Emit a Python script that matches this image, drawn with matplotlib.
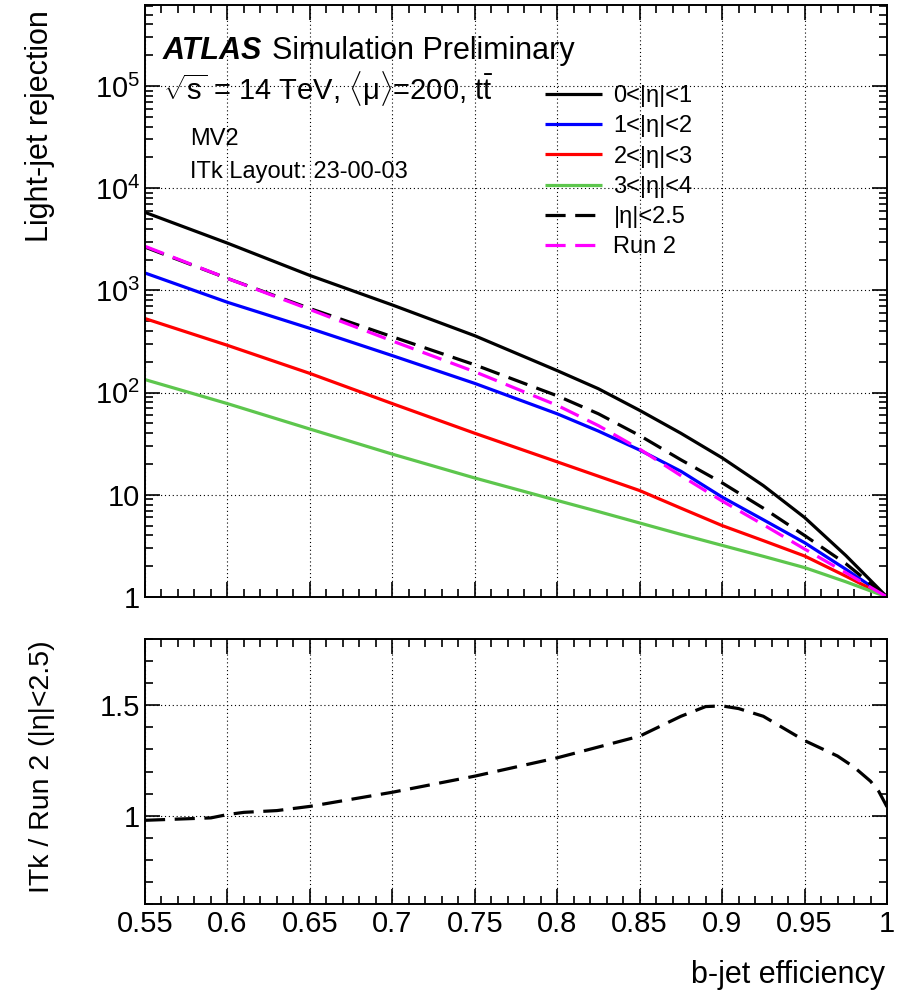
import math
import matplotlib
matplotlib.use("Agg")
import matplotlib.pyplot as plt
from matplotlib.ticker import MultipleLocator, FixedLocator, FuncFormatter, LogLocator, NullFormatter

plt.rcParams["font.family"] = ["Liberation Sans", "DejaVu Sans"]
plt.rcParams["mathtext.fontset"] = "custom"
plt.rcParams["mathtext.rm"] = "Liberation Sans"
plt.rcParams["mathtext.it"] = "Liberation Sans:italic"
plt.rcParams["mathtext.bf"] = "Liberation Sans:bold"

# b-tagging performance: light-jet rejection vs b-jet efficiency
eff = [0.55, 0.60, 0.65, 0.70, 0.75, 0.80, 0.825, 0.85, 0.875, 0.90, 0.925, 0.95, 0.975, 1.0]
rej_eta01 = [5800, 2900, 1400, 720, 360, 164, 109, 67, 40, 23, 12.3, 6.0, 2.55, 1.0]
rej_eta12 = [1480, 765, 425, 230, 123, 62, 42, 27.4, 17, 9.5, 5.7, 3.4, 1.87, 1.0]
rej_eta23 = [530, 290, 154, 78, 40, 21, 15.2, 11.0, 7.4, 5.0, 3.56, 2.52, 1.6, 1.0]
rej_eta34 = [134, 78, 44, 25, 14.6, 8.8, 6.85, 5.3, 4.1, 3.2, 2.5, 1.94, 1.41, 1.0]
rej_itk = [2650, 1310, 665, 352, 187, 93, 62, 38, 22, 13.1, 7.4, 4.0, 2.12, 1.0]
rej_run2 = [2700, 1310, 650, 320, 160, 75, 47.5, 28, 15.4, 8.7, 5.1, 2.95, 1.73, 1.0]

# ITk / Run 2 ratio for |eta|<2.5
ratio_eff = [0.55, 0.59, 0.60, 0.61, 0.63, 0.65, 0.70, 0.75, 0.80, 0.85, 0.875,
             0.89, 0.90, 0.91, 0.925, 0.95, 0.97, 0.98, 0.99, 0.995, 1.0]
ratio_val = [0.979, 0.99, 1.005, 1.015, 1.023, 1.042, 1.106, 1.179, 1.262, 1.36, 1.45,
             1.494, 1.497, 1.485, 1.45, 1.34, 1.27, 1.22, 1.156, 1.11, 1.04]

labels = ["0<|η|<1", "1<|η|<2", "2<|η|<3", "3<|η|<4", "|η|<2.5", "Run 2"]
colors = ["black", "#0000ff", "#ff0000", "#5dc64d", "black", "#ff00ff"]
series = [rej_eta01, rej_eta12, rej_eta23, rej_eta34, rej_itk, rej_run2]
dashed = [False, False, False, False, True, True]

W, H = 902, 994
fig = plt.figure(figsize=(W / 100, H / 100), dpi=100)
ax1 = fig.add_axes([145 / W, 1 - 597 / H, 742 / W, 592 / H])
ax2 = fig.add_axes([145 / W, 1 - 904 / H, 742 / W, 265 / H])

lw = 2.3
dash = (6.3, 3.0)
for vals, lab, col, d in zip(series, labels, colors, dashed):
    ln, = ax1.plot(eff, vals, color=col, lw=lw, label=lab, solid_capstyle="butt",
                   solid_joinstyle="round")
    if d:
        ln.set_dashes(dash)

ax2.plot(ratio_eff, ratio_val, color="black", lw=lw, dashes=dash)

tick_fs = 21
grid_kw = dict(color="black", lw=0.8, linestyle=(0, (1, 2.5)))

for ax in (ax1, ax2):
    ax.set_xlim(0.55, 1.0)
    ax.xaxis.set_major_locator(MultipleLocator(0.05))
    ax.xaxis.set_minor_locator(MultipleLocator(0.01))
    ax.tick_params(which="both", direction="in", top=True, right=True, width=1.2,
                   labelsize=tick_fs)
    ax.tick_params(which="major", length=11)
    ax.tick_params(which="minor", length=5.5)
    ax.grid(True, which="major", **grid_kw)
    for s in ax.spines.values():
        s.set_linewidth(1.4)

ax1.set_yscale("log")
ax1.set_ylim(1, 6.2e5)
ax1.yaxis.set_major_locator(LogLocator(base=10, numticks=10))
ax1.yaxis.set_minor_locator(LogLocator(base=10, subs=range(2, 10), numticks=20))
ax1.yaxis.set_minor_formatter(NullFormatter())


def log_fmt(v, pos):
    if v < 1.5:
        return "1"
    if v < 15:
        return "10"
    return r"$\mathregular{10^{%d}}$" % int(round(math.log10(v)))


ax1.yaxis.set_major_formatter(FuncFormatter(log_fmt))
ax1.tick_params(axis="x", labelbottom=False)

ax2.set_ylim(0.6, 1.8)
ax2.yaxis.set_major_locator(FixedLocator([1.0, 1.5]))
ax2.yaxis.set_minor_locator(MultipleLocator(0.1))
ax2.yaxis.set_major_formatter(FuncFormatter(lambda v, p: "%g" % v))
ax2.xaxis.set_major_formatter(FuncFormatter(lambda v, p: "%g" % round(v, 2)))
ax2.tick_params(axis="x", pad=4)

# axis titles, aligned to the end of each axis
fig.text(40 / W, 1 - 10 / H, "Light-jet rejection", rotation=90, ha="center", va="top",
         fontsize=22)
fig.text(42 / W, 1 - 640 / H, "ITk / Run 2 (|η|<2.5)", rotation=90, ha="center", va="top",
         fontsize=20.5)
fig.text(885 / W, 1 - 975 / H, "b-jet efficiency", ha="right", va="center", fontsize=22)

# labels
fig.text(163 / W, 1 - 51 / H, "ATLAS", fontsize=22, fontweight="bold",
         fontstyle="italic", ha="left", va="center")
fig.text(272 / W, 1 - 51 / H, "Simulation Preliminary", fontsize=22, ha="left", va="center")
fig.text(163 / W, 1 - 89 / H,
         r"$\sqrt{\mathrm{s}}$ = 14 TeV, $\langle\mathrm{\mu}\rangle$=200, t$\bar{\mathrm{t}}$",
         fontsize=21, ha="left", va="center")
fig.text(190 / W, 1 - 139 / H, "MV2", fontsize=17, ha="left", va="center")
fig.text(190 / W, 1 - 172 / H, "ITk Layout: 23-00-03", fontsize=17, ha="left", va="center")

ax1.legend(loc="upper left", bbox_to_anchor=(545 / W, 1 - 85 / H),
           bbox_transform=fig.transFigure, frameon=False, fontsize=17,
           handlelength=2.4, handletextpad=0.5, labelspacing=0.35,
           borderpad=0, borderaxespad=0)

fig.savefig("out.png", dpi=100)
